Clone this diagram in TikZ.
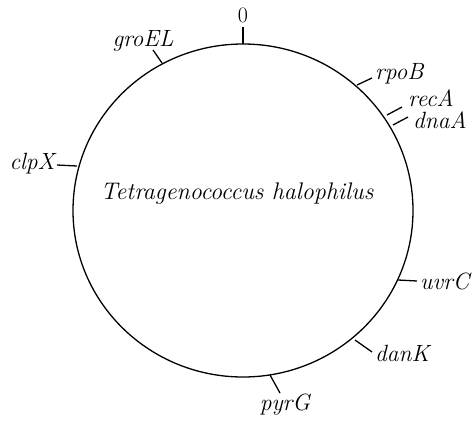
\documentclass[tikz,border=0pt]{standalone}
\usetikzlibrary{shapes.geometric}
\begin{document}
\begin{tikzpicture}[x=1pt,y=-1pt,
  genome/.style={draw=black,line width=1.3pt},
  tick/.style={draw=black,line width=1.3pt},
  lbl/.style={font=\fontsize{23.5}{26}\selectfont\itshape,inner sep=0pt},
]
\useasboundingbox (0,0) rectangle (473,420);
\node[genome,ellipse,minimum width=340pt,minimum height=333pt,inner sep=0pt] (g) at (243,210.5) {};
\node[lbl,font=\fontsize{24}{26}\selectfont\itshape] (title) at (237,194) {Tetragenococcus halophilus};
% ticks: circle points and outer ends
\coordinate (p0) at (243,44);   \coordinate (q0) at (243,27);
\coordinate (p1) at (162,63);   \coordinate (q1) at (153,50);
\coordinate (p2) at (357,85);   \coordinate (q2) at (372,78);
\coordinate (p3) at (387,115);  \coordinate (q3) at (402,107);
\coordinate (p4) at (393,125);  \coordinate (q4) at (408,117);
\coordinate (p5) at (77,166);   \coordinate (q5) at (57,165);
\coordinate (p6) at (398,280);  \coordinate (q6) at (417,281);
\coordinate (p7) at (355,340);  \coordinate (q7) at (372,352);
\coordinate (p8) at (270,375);  \coordinate (q8) at (280,393);
\foreach \i in {0,...,8} {\draw[tick] (p\i) -- (q\i);}
\node[lbl,font=\fontsize{22}{24}\selectfont\upshape] (l0) at (243,15) {0};
\node[lbl] (l1) at (143,41) {groEL};
\node[lbl,anchor=west] (l2) at (375,74) {rpoB};
\node[lbl,anchor=west] (l3) at (408,98) {recA};
\node[lbl,anchor=west] (l4) at (413,120) {dnaA};
\node[lbl,anchor=east] (l5) at (55,164) {clpX};
\node[lbl,anchor=west] (l6) at (420,281) {uvrC};
\node[lbl,anchor=west] (l7) at (375,353) {danK};
\node[lbl] (l8) at (285,405) {pyrG};
\end{tikzpicture}
\end{document}
